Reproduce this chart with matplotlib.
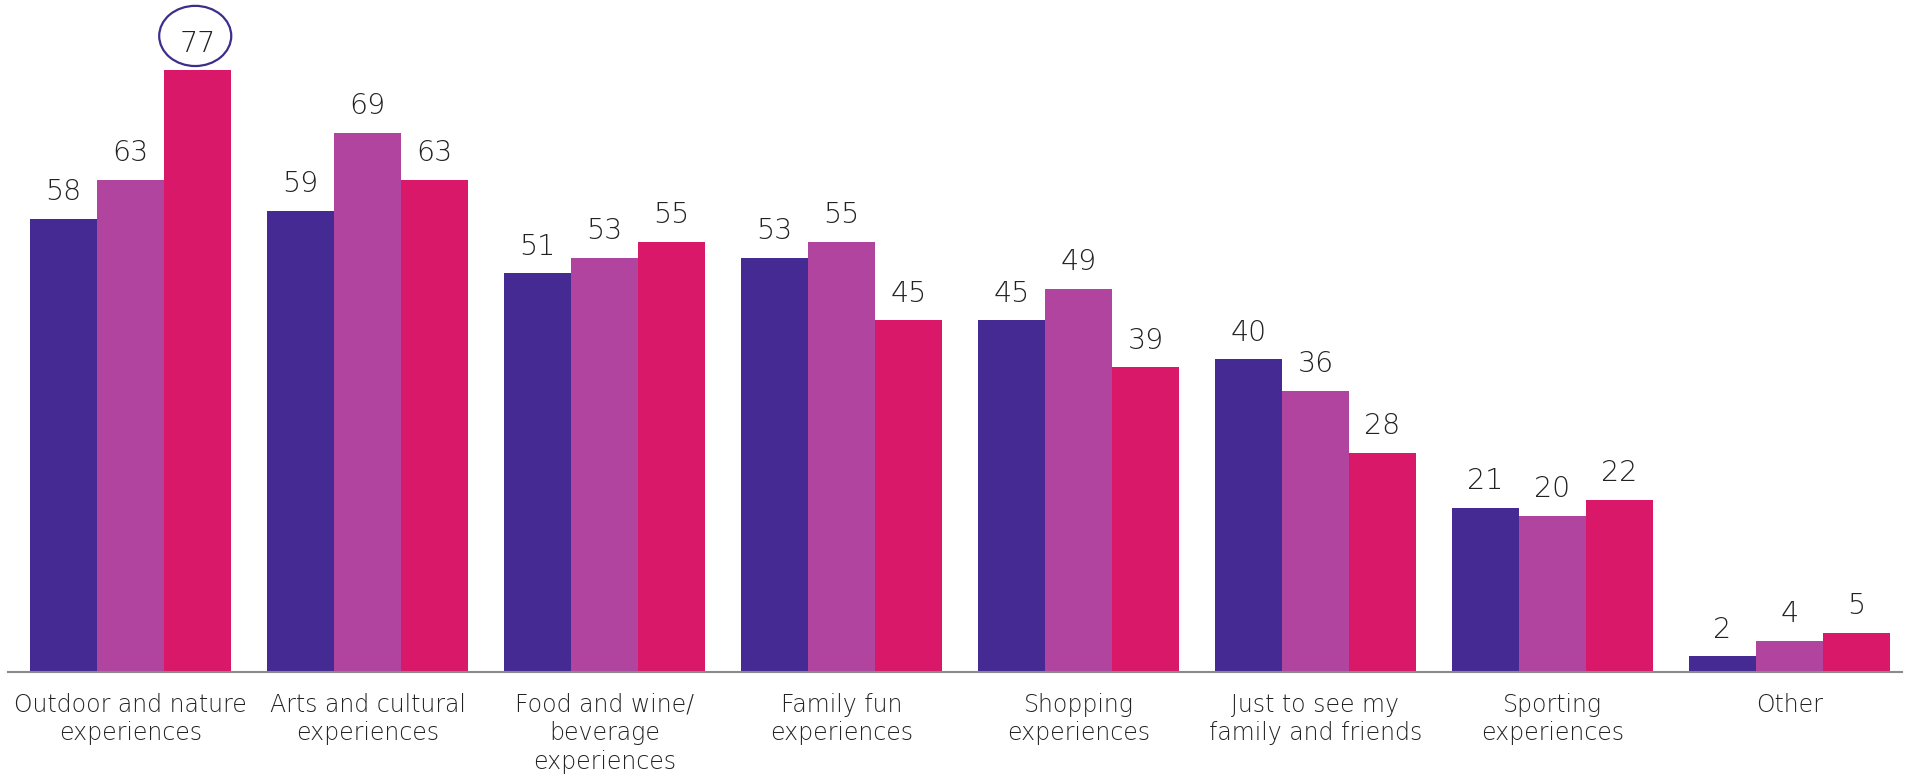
import numpy as np
import matplotlib
matplotlib.use('Agg')
import matplotlib.pyplot as plt
from matplotlib.patches import Ellipse

categories = ["Outdoor and nature\nexperiences", "Arts and cultural\nexperiences",
              "Food and wine/\nbeverage\nexperiences", "Family fun\nexperiences",
              "Shopping\nexperiences", "Just to see my\nfamily and friends",
              "Sporting\nexperiences", "Other"]
series_a = [58, 59, 51, 53, 45, 40, 21, 2]
series_b = [63, 69, 53, 55, 49, 36, 20, 4]
series_c = [77, 63, 55, 45, 39, 28, 22, 5]
highlight = (2, 0)  # series index, category index of the circled value

colors = ['#452a94', '#b0449f', '#d9186a']
text_color = '#222222'

plt.rcParams['font.family'] = ['DejaVu Sans']
plt.rcParams['font.weight'] = 'light'

fig = plt.figure(figsize=(19.1, 7.74), dpi=100)
ax = fig.add_axes([8 / 1910, 1 - 672 / 774, 1894 / 1910, 672 / 774])

x = np.arange(len(categories))
w = 0.283
all_series = [series_a, series_b, series_c]
for i, vals in enumerate(all_series):
    pos = x + (i - 1) * w
    ax.bar(pos, vals, width=w, color=colors[i], edgecolor='none')
    for xp, v in zip(pos, vals):
        ax.annotate(str(v), (xp, v), xytext=(0, 13.5), textcoords='offset points',
                    ha='center', va='baseline', fontsize=20.5, color=text_color)

ax.set_xlim(-0.517, 7.475)
ax.set_ylim(0, 86)

# circle round the top value
s, c = highlight
hv = all_series[s][c]
ax.add_patch(Ellipse((c + (s - 1) * w - 0.01, hv + 4.4), 0.304, 7.7, fill=False,
                     edgecolor='#3b2f8c', linewidth=1.6, clip_on=False))

for sp in ['top', 'right', 'left']:
    ax.spines[sp].set_visible(False)
ax.spines['bottom'].set_color('#8a8a8a')
ax.spines['bottom'].set_linewidth(1.5)
ax.set_yticks([])
ax.set_xticks(x)
ax.set_xticklabels(categories, fontsize=17, color=text_color, linespacing=1.24)
ax.tick_params(axis='x', length=0, pad=15)

fig.savefig('out.png', dpi=100, facecolor='white')
